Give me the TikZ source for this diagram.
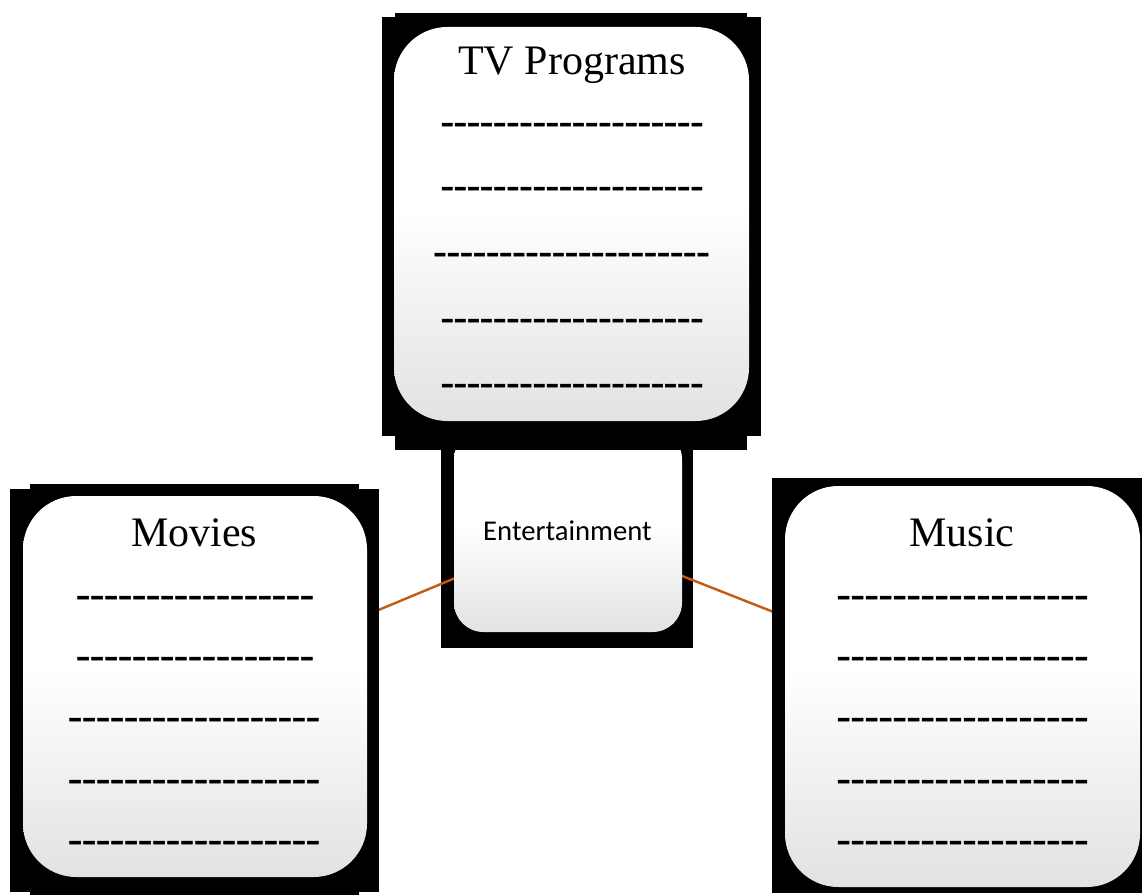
\documentclass[tikz,border=0pt]{standalone}
\usepackage{fontspec}
\setmainfont{Liberation Serif}
\newfontfamily\calibrifont{Carlito}
\newfontfamily\dashfont{Liberation Serif}[FakeBold=1.2]
\usetikzlibrary{backgrounds}

\definecolor{linkorange}{RGB}{197,90,17}
\definecolor{cardgray}{RGB}{226,226,226}

% white upper half, fading to light grey towards the bottom edge
\pgfdeclareverticalshading{cardshade}{100bp}{color(0bp)=(cardgray); color(25bp)=(cardgray); color(52bp)=(white); color(100bp)=(white)}

% a row of separate hyphens (kerns keep them from joining into dashes)
\newcommand\dashrun[1]{\foreach \k in {1,...,#1}{-\kern0pt}}

\tikzset{
  card/.style={rounded corners=40pt, shade, shading=cardshade, inner sep=0pt, draw=none},
  smallcard/.style={card, rounded corners=22pt},
  cardframe/.style={fill=black},
  cardtitle/.style={anchor=base, inner sep=0pt, font=\fontsize{31.5pt}{36pt}\selectfont},
  dashrow/.style={anchor=base, inner sep=0pt, font=\dashfont\fontsize{31.5pt}{36pt}\selectfont},
  tvdashrow/.style={dashrow, font=\dashfont\fontsize{29.6pt}{34pt}\selectfont},
  link/.style={draw=linkorange, line width=1.8pt},
}

\begin{document}
\begin{tikzpicture}[x=0.75pt, y=-0.75pt]
\useasboundingbox (0,0) rectangle (1142,895);

% ---- centre card: Entertainment ----
\node[smallcard, minimum width=171pt, minimum height=151.5pt] (ent) at (568,531) {};
\node[anchor=base, inner sep=0pt, font=\calibrifont\fontsize{21.5pt}{25pt}\selectfont]
  (entlabel) at (567.5,540) {Entertainment};

% ---- top card: TV Programs ----
\fill[cardframe] (382,17) rectangle (761,436);
\fill[cardframe] (395,13) rectangle (747,450);
\node[card, minimum width=266.25pt, minimum height=295.5pt] (tv) at (571.5,224) {};
\node[cardtitle] (tvtitle) at (572,75) {TV Programs};
\node[tvdashrow] (tv1) at (572,134) {\dashrun{20}};
\node[tvdashrow] (tv2) at (572,198) {\dashrun{20}};
\node[tvdashrow] (tv3) at (571.5,264) {\dashrun{21}};
\node[tvdashrow] (tv4) at (572,330) {\dashrun{20}};
\node[tvdashrow] (tv5) at (572,395) {\dashrun{20}};

% ---- left card: Movies ----
\fill[cardframe] (10,489) rectangle (379,892);
\fill[cardframe] (30,484) rectangle (359,895);
\node[card, minimum width=258pt, minimum height=285.75pt] (movies) at (195,686.5) {};
\node[cardtitle] (movtitle) at (194,546) {Movies};
\node[dashrow] (mov1) at (195,607.5) {\dashrun{17}};
\node[dashrow] (mov2) at (195,668.5) {\dashrun{17}};
\node[dashrow] (mov3) at (194,729.5) {\dashrun{18}};
\node[dashrow] (mov4) at (194,791.5) {\dashrun{18}};
\node[dashrow] (mov5) at (194,852.5) {\dashrun{18}};

% ---- right card: Music ----
\fill[cardframe] (772,478) rectangle (1150,893);
\node[card, minimum width=266.25pt, minimum height=300.75pt] (music) at (962.5,686.5) {};
\node[cardtitle] (mustitle) at (962,546) {Music};
\node[dashrow] (mus1) at (962.5,607.5) {\dashrun{18}};
\node[dashrow] (mus2) at (962.5,668.5) {\dashrun{18}};
\node[dashrow] (mus3) at (962.5,729.5) {\dashrun{18}};
\node[dashrow] (mus4) at (962.5,791.5) {\dashrun{18}};
\node[dashrow] (mus5) at (962.5,852.5) {\dashrun{18}};

% ---- page, centre frame and connectors, beneath the cards ----
\begin{pgfonlayer}{background}
  \fill[white] (0,0) rectangle (1142,895);
  \fill[cardframe] (441,425) rectangle (693,648);
  \draw[link] (ent.center) -- (movies.center);
  \draw[link] (ent.center) -- (music.center);
\end{pgfonlayer}
\end{tikzpicture}
\end{document}
